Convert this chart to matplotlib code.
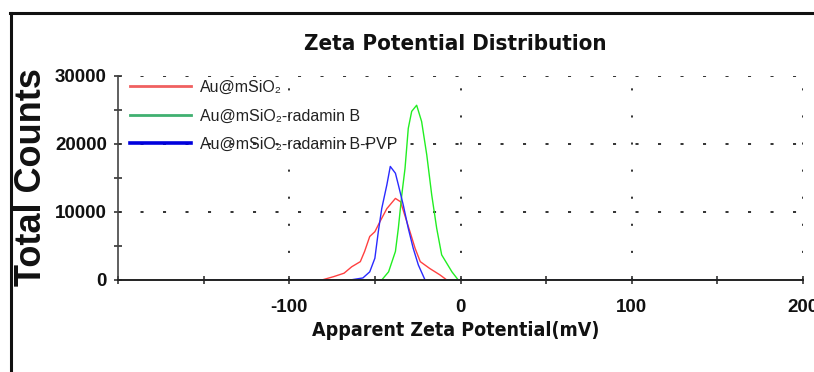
import matplotlib
matplotlib.use('Agg')
import matplotlib.pyplot as plt
from matplotlib.lines import Line2D



########## Data
# Au@mSiO2
x_red = [-150, -81, -74, -68, -63.5, -58.5, -56, -53, -50, -47, -43, -38, -35, -32.5,
         -29.5, -26.5, -23.5, -18, -12, -8, 150]
y_red = [0, 0, 500, 1000, 1950, 2700, 4200, 6400, 7100, 8600, 10500, 12000, 11500, 9500,
         7100, 4650, 2700, 1700, 750, 0, 0]

# Au@mSiO2-radamin B
x_green = [-150, -46, -42, -38, -36.3, -34.3, -32.4, -30.5, -28.5, -25.6, -22.7, -19.7,
           -16.8, -13.9, -11, -8, -5, -1.3, 150]
y_green = [0, 0, 1200, 4200, 7600, 12500, 16400, 22300, 24800, 25700, 23300, 18400,
           12500, 7600, 3700, 2450, 1200, 0, 0]

# Au@mSiO2-radamin B-PVP
x_blue = [-150, -64.5, -57, -53, -50, -48, -46, -43, -41, -38, -36.3, -33.4, -30.5,
          -27.6, -24.6, -20.7, 150]
y_blue = [0, 0, 300, 1200, 3200, 7100, 10500, 14000, 16700, 15700, 14000, 11000, 7600,
          4650, 2200, 0, 0]

labels = ['Au@mSiO\u2082', 'Au@mSiO\u2082-radamin B', 'Au@mSiO\u2082-radamin B-PVP']

x_major = [-200, -100, 0, 100, 200]
x_major_labels = ['', '-100', '0', '100', '200']
x_minor = [-150, -50, 50, 150]
y_major = [0, 10000, 20000, 30000]
y_minor = [5000, 15000, 25000]



########## Style
plt.rcParams['lines.scale_dashes'] = False
plt.rcParams['axes.unicode_minus'] = False
sans = ['Liberation Sans', 'DejaVu Sans']



########## Figure
fig = plt.figure(figsize=(8.14, 3.72), dpi=100)
ax = fig.add_axes([118/814, 1 - 280/372, 685/814, 204/372])

ax.plot(x_red, y_red, color='#ff4040', lw=1.0)
ax.plot(x_green, y_green, color='#22ee22', lw=1.0)
ax.plot(x_blue, y_blue, color='#2a2aff', lw=1.0)

ax.set_xlim(-200, 200)
ax.set_ylim(0, 30000)

# dotted grid
for yv in [10000, 20000, 30000]:
    ax.axhline(yv, color='#222222', lw=1.3, ls=(0, (2.2, 14)), zorder=0)
for xv in [-100, 0, 100, 200]:
    ax.axvline(xv, color='#222222', lw=1.3, ls=(0, (1.5, 18)), zorder=0)

for s in ['top', 'right']:
    ax.spines[s].set_visible(False)
ax.spines['left'].set_color('#444444')
ax.spines['left'].set_linewidth(1.2)
ax.spines['bottom'].set_color('#222222')
ax.spines['bottom'].set_linewidth(1.4)

ax.set_xticks(x_major)
ax.set_xticklabels(x_major_labels)
ax.set_xticks(x_minor, minor=True)
ax.set_yticks(y_major)
ax.set_yticks(y_minor, minor=True)
ax.tick_params(which='both', direction='inout', length=6, width=1.2, color='#333333')
ax.tick_params(axis='x', which='major', pad=11)
ax.tick_params(axis='y', which='major', pad=5)
for lab in ax.get_xticklabels() + ax.get_yticklabels():
    lab.set_family(sans)
    lab.set_fontweight('bold')
    lab.set_fontsize(13.5)
    lab.set_color('#111111')

# legend
handles = [Line2D([], [], color='#f06060', lw=2.0),
           Line2D([], [], color='#40b070', lw=2.0),
           Line2D([], [], color='#0000dd', lw=2.6)]
leg = ax.legend(handles, labels, loc='upper left', bbox_to_anchor=(0.0175, 0.98),
                frameon=False, borderpad=0, borderaxespad=0, handlelength=3.8,
                handletextpad=0.56, labelspacing=0.84,
                prop={'family': sans, 'size': 11.5})
for t in leg.get_texts():
    t.set_color('#222222')

ax.set_title('Zeta Potential Distribution', family='DejaVu Sans', stretch='condensed',
             fontweight='bold', fontsize=16, color='#111111', pad=19, x=0.493)
ax.set_xlabel('Apparent Zeta Potential(mV)', family='DejaVu Sans', stretch='condensed',
              fontweight='bold', fontsize=14, color='#111111')
ax.xaxis.set_label_coords(0.493, -0.2)
fig.text(32/814, 1 - 177/372, 'Total Counts', rotation=90, ha='center', va='center',
         family=sans, fontweight='bold', fontsize=26, color='#111111')

# frame lines
fig.add_artist(Line2D([10/814, 1], [1 - 12.5/372, 1 - 12.5/372], color='#111111', lw=2.2))
fig.add_artist(Line2D([10.5/814, 10.5/814], [0, 1 - 12.5/372], color='#111111', lw=2.2))

plt.savefig('out.png', dpi=100)
plt.close()
